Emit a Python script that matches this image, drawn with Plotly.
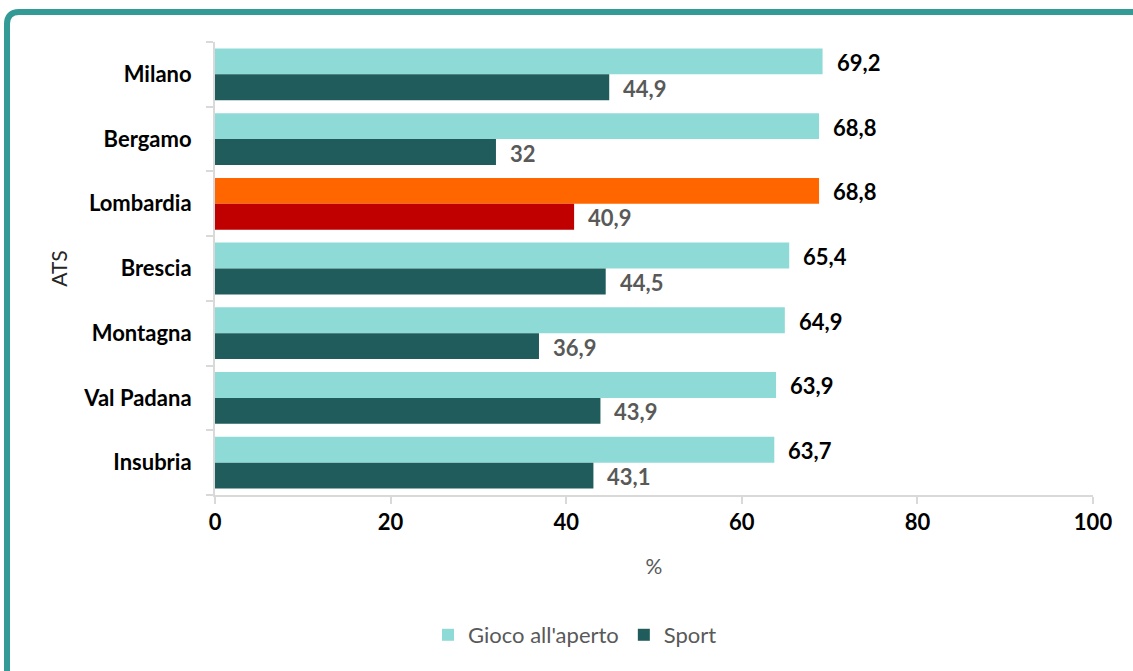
import plotly.graph_objects as go

categories = ["Milano", "Bergamo", "Lombardia", "Brescia", "Montagna", "Val Padana", "Insubria"]
gioco = [69.2, 68.8, 68.8, 65.4, 64.9, 63.9, 63.7]
sport = [44.9, 32, 40.9, 44.5, 36.9, 43.9, 43.1]
x_ticks = [0, 20, 40, 60, 80, 100]

W, H = 1133, 671
L, R, T, B = 215, 40, 42, 176
FONT = "Lato"
FS = 22

def fmt(v):
    s = ("%.1f" % v).rstrip("0").rstrip(".")
    return s.replace(".", ",")

gioco_colors = ["#FF6600" if c == "Lombardia" else "#8EDAD7" for c in categories]
sport_colors = ["#C00000" if c == "Lombardia" else "#1F5C5B" for c in categories]

fig = go.Figure()
fig.add_trace(go.Bar(name="Gioco all'aperto", y=categories, x=gioco, orientation="h",
                     marker=dict(color=gioco_colors, line=dict(width=0)),
                     legendrank=1))
fig.add_trace(go.Bar(name="Sport", y=categories, x=sport, orientation="h",
                     marker=dict(color=sport_colors, line=dict(width=0)),
                     legendrank=2))

annotations = []
for c, g, s in zip(categories, gioco, sport):
    annotations.append(dict(x=g, y=c, xref="x", yref="y", text="<b>%s</b>" % fmt(g),
                            showarrow=False, xanchor="left", xshift=12, yshift=12,
                            font=dict(family=FONT, size=FS, color="#000000")))
    annotations.append(dict(x=s, y=c, xref="x", yref="y", text="<b>%s</b>" % fmt(s),
                            showarrow=False, xanchor="left", xshift=12, yshift=-14,
                            font=dict(family=FONT, size=FS, color="#595959")))

pw, ph = W - L - R, H - T - B
def px(x): return (x - L) / pw
def py(y): return (H - B - y) / ph

x0, yt, r = 7, 12, 12
path = "M %f,%f L %f,%f Q %f,%f %f,%f L %f,%f" % (
    px(x0), py(H + 5), px(x0), py(yt + r), px(x0), py(yt), px(x0 + r), py(yt), px(W + 5), py(yt))

fig.update_layout(
    width=W, height=H,
    margin=dict(l=L, r=R, t=T, b=B),
    paper_bgcolor="white", plot_bgcolor="white",
    barmode="group", bargap=0.2, bargroupgap=0,
    font=dict(family=FONT, size=FS, color="#000000"),
    showlegend=True,
    legend=dict(orientation="h", x=0.41, xanchor="center", y=-0.309, yanchor="middle",
                font=dict(family=FONT, size=FS, color="#595959"), itemsizing="constant",
                traceorder="normal"),
    annotations=annotations,
    shapes=[dict(type="path", path=path, xref="paper", yref="paper",
                 line=dict(color="#339A96", width=6), layer="above")],
    xaxis=dict(range=[0, 100], tickvals=x_ticks, ticktext=["<b>%d</b>" % v for v in x_ticks],
               showgrid=False, zeroline=False, showline=True, linecolor="#D9D9D9", linewidth=2,
               ticks="outside", ticklen=7, tickcolor="#D9D9D9", tickwidth=2,
               tickfont=dict(family=FONT, size=FS, color="#000000"),
               title=dict(text="%", standoff=25, font=dict(family=FONT, size=21, color="#595959"))),
    yaxis=dict(autorange="reversed", type="category", tickson="boundaries",
               tickvals=categories, ticktext=["<b>%s</b>" % c for c in categories],
               showgrid=False, zeroline=False, showline=True, linecolor="#D9D9D9", linewidth=2,
               ticks="outside", ticklen=7, tickcolor="#D9D9D9", tickwidth=2,
               ticklabelstandoff=17,
               tickfont=dict(family=FONT, size=FS, color="#000000"),
               title=dict(text="ATS", standoff=10, font=dict(family=FONT, size=21, color="#262626"))),
)

fig.write_html("out.html", config={"displayModeBar": False},
               post_script="document.body.style.margin='0';")
